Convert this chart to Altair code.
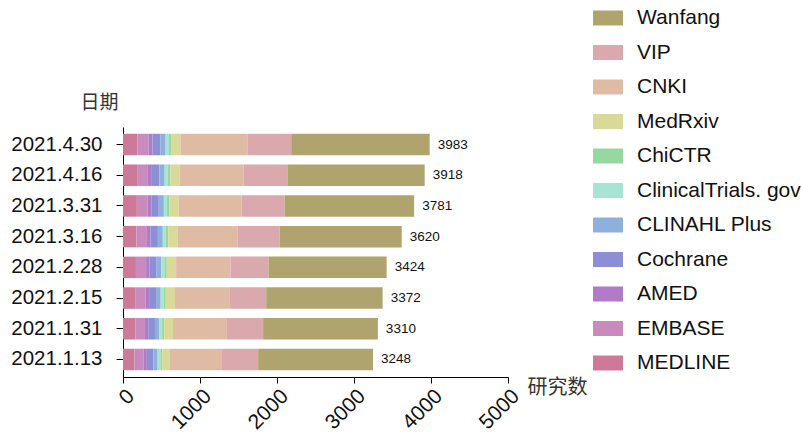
import altair as alt
import pandas as pd

dates = ["2021.4.30", "2021.4.16", "2021.3.31", "2021.3.16",
         "2021.2.28", "2021.2.15", "2021.1.31", "2021.1.13"]
totals = [3983, 3918, 3781, 3620, 3424, 3372, 3310, 3248]

sources = ["MEDLINE", "EMBASE", "AMED", "Cochrane", "CLINAHL Plus",
           "ClinicalTrials. gov", "ChiCTR", "MedRxiv", "CNKI", "VIP", "Wanfang"]

medline = [188, 183, 180, 175, 168, 165, 160, 150]
embase = [142, 140, 138, 135, 132, 130, 125, 120]
amed = [54, 52, 50, 48, 45, 44, 42, 40]
cochrane = [100, 98, 97, 95, 92, 90, 88, 85]
clinahl = [70, 68, 66, 64, 62, 60, 57, 55]
clinicaltrials = [43, 42, 41, 40, 39, 38, 36, 35]
chictr = [34, 33, 32, 31, 30, 28, 27, 25]
medrxiv = [114, 119, 121, 122, 122, 120, 115, 100]
cnki = [870, 830, 815, 780, 705, 705, 700, 675]
vip = [570, 570, 560, 545, 495, 480, 470, 470]
wanfang = [1798, 1783, 1681, 1585, 1534, 1512, 1490, 1493]

colors = ["#cc7a98", "#c98abd", "#b07cc8", "#8c8fd6", "#8fb0dc",
          "#a8e3d3", "#96d9a0", "#d9d99a", "#dfbba3", "#d9a9ad", "#b0a46e"]

series = [medline, embase, amed, cochrane, clinahl, clinicaltrials,
          chictr, medrxiv, cnki, vip, wanfang]

rows = []
for si, (name, vals) in enumerate(zip(sources, series)):
    for d, v in zip(dates, vals):
        rows.append({"date": d, "source": name, "value": v, "ord": si})
df = pd.DataFrame(rows)
tot_df = pd.DataFrame({"date": dates, "total": totals})

FONT = "Liberation Sans, Arial, Noto Sans CJK SC"

legend_domain = list(reversed(sources))
legend_range = list(reversed(colors))

bars = alt.Chart(df).mark_bar().encode(
    y=alt.Y("date:N", sort=dates,
            scale=alt.Scale(paddingInner=0.3, paddingOuter=0.22),
            axis=alt.Axis(title="日期", titleAngle=0, titleAlign="right",
                          titleBaseline="middle", titleX=-5, titleY=-25,
                          titleFontSize=19, titleFontWeight="normal",
                          titleColor="#333333", labelFontSize=20.5,
                          labelColor="#111111", labelPadding=14,
                          tickSize=7, tickColor="#000000",
                          domainColor="#000000", grid=False)),
    x=alt.X("value:Q", stack="zero",
            scale=alt.Scale(domain=[0, 5000], nice=False),
            axis=alt.Axis(title="研究数", values=[0, 1000, 2000, 3000, 4000, 5000],
                          format="d",
                          labelAngle=-45, labelFontSize=21, labelColor="#111111",
                          titleAlign="left", titleBaseline="middle",
                          titleX=404, titleY=10, titleFontSize=20,
                          titleFontWeight="normal", titleColor="#333333",
                          tickSize=6, tickColor="#000000",
                          domainColor="#000000", grid=False)),
    color=alt.Color("source:N",
                    scale=alt.Scale(domain=legend_domain, range=legend_range),
                    legend=alt.Legend(title=None, orient="none",
                                      legendX=470, legendY=-124,
                                      symbolType="M-1,-0.5H1V0.5H-1Z",
                                      symbolSize=900, symbolStrokeWidth=0,
                                      symbolOpacity=1,
                                      labelFontSize=21, labelColor="#111111",
                                      labelOffset=14, rowPadding=9.5,
                                      labelLimit=300)),
    order=alt.Order("ord:Q", sort="ascending"),
)

labels = alt.Chart(tot_df).mark_text(align="left", baseline="middle", dx=8,
                                     fontSize=13.5, color="#111111", font=FONT).encode(
    y=alt.Y("date:N", sort=dates),
    x=alt.X("total:Q"),
    text=alt.Text("total:Q"),
)

chart = alt.layer(bars, labels).properties(
    width=385, height=250,
    autosize=alt.AutoSizeParams(type="none"),
    padding={"left": 123, "top": 127, "right": 293, "bottom": 66},
).configure(font=FONT).configure_view(stroke=None).configure_axis(
    labelFont=FONT, titleFont=FONT
).configure_legend(labelFont=FONT)

chart.save("out.html", embed_options={"renderer": "svg", "actions": False})
